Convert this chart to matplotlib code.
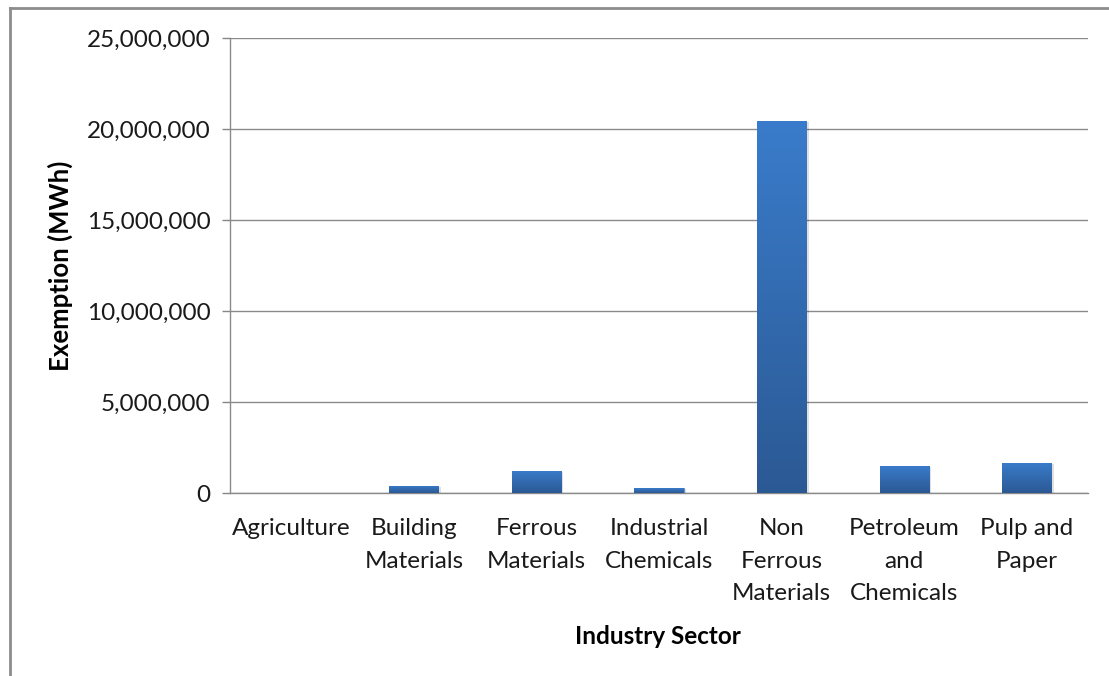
import matplotlib
matplotlib.use("Agg")
import matplotlib.pyplot as plt
import numpy as np
from matplotlib.patches import Rectangle
from matplotlib.lines import Line2D
from matplotlib.colors import LinearSegmentedColormap
from matplotlib.ticker import FuncFormatter

sectors = ["Agriculture", "Building\nMaterials", "Ferrous\nMaterials", "Industrial\nChemicals",
           "Non\nFerrous\nMaterials", "Petroleum\nand\nChemicals", "Pulp and\nPaper"]
exemption_mwh = [8000, 400000, 1210000, 270000, 20450000, 1500000, 1660000]
y_ticks = [0, 5000000, 10000000, 15000000, 20000000, 25000000]

plt.rcParams["font.family"] = ["Lato", "DejaVu Sans"]

fig = plt.figure(figsize=(11.09, 6.76), dpi=100)
ax = fig.add_axes([230 / 1109, 1 - 493 / 676, (1088 - 230) / 1109, (493 - 38) / 676])

x = np.arange(len(sectors))
bar_w = 0.4
bars = ax.bar(x, exemption_mwh, width=bar_w, color="#3470ba", zorder=3,
              edgecolor="#5a8fd0", linewidth=0.6)

# vertical blue gradient inside each bar, plus a soft drop shadow
grad_cmap = LinearSegmentedColormap.from_list("bar_grad", ["#2b5994", "#3a7ccb"])
gradient = np.linspace(0, 1, 256).reshape(-1, 1)
for rect in bars:
    x0, w, h = rect.get_x(), rect.get_width(), rect.get_height()
    if h <= 0:
        continue
    shadow = Rectangle((x0 + 0.02, -60000), w, h, facecolor="#000000", alpha=0.12,
                       zorder=2, linewidth=0)
    ax.add_patch(shadow)
    im = ax.imshow(gradient, extent=(x0, x0 + w, 0, h), origin="lower", cmap=grad_cmap,
                   aspect="auto", zorder=3.5, interpolation="bilinear")
    im.set_clip_path(rect)

ax.set_xlim(-0.5, len(sectors) - 0.5)
ax.set_ylim(0, 25000000)
ax.set_yticks(y_ticks)
ax.yaxis.set_major_formatter(FuncFormatter(lambda v, p: f"{int(v):,}"))
ax.set_xticks(x)
ax.set_xticklabels(sectors, fontsize=17.5, color="#1a1a1a", linespacing=1.68,
                   va="top")
ax.tick_params(axis="y", labelsize=17.5, colors="#1a1a1a", length=6, width=1,
               color="#868686", pad=8)
ax.tick_params(axis="x", length=0, pad=18)
for lab in ax.get_yticklabels():
    lab.set_color("#1a1a1a")

ax.grid(axis="y", color="#8a8a8a", linewidth=1, zorder=0)
ax.set_axisbelow(True)
for side in ["top", "right"]:
    ax.spines[side].set_visible(False)
ax.spines["left"].set_color("#8a8a8a")
ax.spines["bottom"].set_color("#8a8a8a")
ax.spines["left"].set_linewidth(1)
ax.spines["bottom"].set_linewidth(1)

ax.set_ylabel("Exemption (MWh)", fontsize=18.5, fontweight="bold", color="#000000")
ax.yaxis.set_label_coords(-0.183, 0.5)
fig.text(658 / 1109, 1 - 636 / 676, "Industry Sector", fontsize=17.5, fontweight="bold",
         ha="center", va="center", color="#000000")

# outer chart-area frame (left and top edges)
fig.add_artist(Line2D([10 / 1109, 10 / 1109], [0, 1 - 8 / 676], color="#8c8c8c",
                      linewidth=2, transform=fig.transFigure))
fig.add_artist(Line2D([10 / 1109, 1], [1 - 8 / 676, 1 - 8 / 676], color="#8c8c8c",
                      linewidth=2, transform=fig.transFigure))

fig.savefig("out.png", dpi=100)
